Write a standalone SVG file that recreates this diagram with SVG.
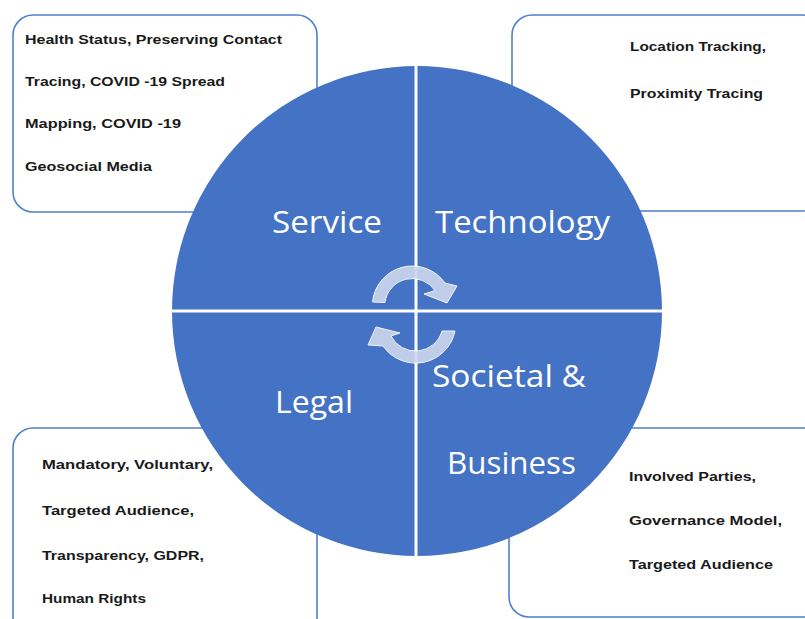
<svg xmlns="http://www.w3.org/2000/svg" width="805" height="619" viewBox="0 0 805 619">
<style>
.box{fill:#ffffff;stroke:#4F7FD0;stroke-width:1.6}
.bt{font-family:"Liberation Sans",Arial,sans-serif;font-weight:bold;font-size:13px;fill:#1a1a1a}
.ql{font-family:"Open Sans","Liberation Sans",sans-serif;font-size:31px;fill:#ffffff}
.div{stroke:#ffffff;stroke-width:3}
.arr{fill:#CBD5EC;stroke:#ffffff;stroke-width:1;opacity:0.92}
</style>
<rect width="805" height="619" fill="#ffffff"/>
<g id="box-service">
<rect class="box" x="13" y="15" width="304" height="197" rx="20"/>
<text class="bt" x="25" y="44" textLength="257" lengthAdjust="spacingAndGlyphs">Health Status, Preserving Contact</text>
<text class="bt" x="25" y="86" textLength="200" lengthAdjust="spacingAndGlyphs">Tracing,  COVID -19 Spread</text>
<text class="bt" x="25" y="128" textLength="156" lengthAdjust="spacingAndGlyphs">Mapping, COVID -19</text>
<text class="bt" x="25" y="171" textLength="127" lengthAdjust="spacingAndGlyphs">Geosocial Media</text>
</g>
<g id="box-technology">
<rect class="box" x="512" y="15" width="310" height="196" rx="20"/>
<text class="bt" x="630" y="51" textLength="136" lengthAdjust="spacingAndGlyphs">Location Tracking,</text>
<text class="bt" x="630" y="98" textLength="133" lengthAdjust="spacingAndGlyphs">Proximity  Tracing</text>
</g>
<g id="box-legal">
<rect class="box" x="13" y="428" width="304" height="220" rx="20"/>
<text class="bt" x="42" y="469" textLength="171" lengthAdjust="spacingAndGlyphs">Mandatory,  Voluntary,</text>
<text class="bt" x="42" y="515" textLength="152" lengthAdjust="spacingAndGlyphs">Targeted  Audience,</text>
<text class="bt" x="42" y="560" textLength="162" lengthAdjust="spacingAndGlyphs">Transparency,  GDPR,</text>
<text class="bt" x="42" y="603" textLength="104" lengthAdjust="spacingAndGlyphs">Human Rights</text>
</g>
<g id="box-societal">
<rect class="box" x="509" y="428" width="320" height="189" rx="20"/>
<text class="bt" x="629" y="481" textLength="127" lengthAdjust="spacingAndGlyphs">Involved Parties,</text>
<text class="bt" x="629" y="525" textLength="153" lengthAdjust="spacingAndGlyphs">Governance Model,</text>
<text class="bt" x="629" y="569" textLength="144" lengthAdjust="spacingAndGlyphs">Targeted  Audience</text>
</g>
<g id="circle">
<circle cx="417" cy="311" r="245" fill="#4472C4"/>
<line class="div" x1="416" y1="66" x2="416" y2="556"/>
<line class="div" x1="172" y1="311" x2="662" y2="311"/>
</g>
<g id="quadrant-service"><text class="ql" x="272" y="233" textLength="110" lengthAdjust="spacingAndGlyphs">Service</text></g>
<g id="quadrant-technology"><text class="ql" x="435" y="233" textLength="175" lengthAdjust="spacingAndGlyphs">Technology</text></g>
<g id="quadrant-legal"><text class="ql" x="275" y="413" textLength="78" lengthAdjust="spacingAndGlyphs">Legal</text></g>
<g id="quadrant-societal">
<text class="ql" x="432" y="387" textLength="154" lengthAdjust="spacingAndGlyphs">Societal &amp;</text>
<text class="ql" x="447" y="474" textLength="129" lengthAdjust="spacingAndGlyphs">Business</text>
</g>
<g id="connectors">
<path class="arr" d="M372.5,302 A40,40 0 0 1 445,283 L457,286 L447,303 L424,294 L435,290.5 A27.5,27.5 0 0 0 385,302.5 Z"/>
<path class="arr" d="M455,331 A40,40 0 0 1 383,346 L368,345 L376,327 L400,333 L391,336 A27.5,27.5 0 0 0 442,331 Z"/>
</g>
</svg>
